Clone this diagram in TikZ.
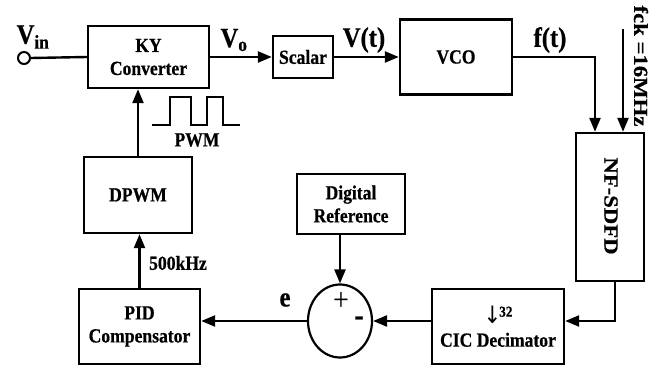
\documentclass[tikz,border=0pt]{standalone}
\usepackage{fontspec}
\setmainfont{Liberation Serif}[FakeStretch=0.88,BoldFeatures={FakeBold=0.6}]
\newfontfamily\rotfont{Liberation Serif}[FakeStretch=1.136,BoldFeatures={FakeBold=0.6}]
\newfontfamily\arrowfont{DejaVu Sans}[FakeStretch=0.88]
\usetikzlibrary{arrows.meta,shapes.geometric}

\begin{document}
\begin{tikzpicture}[x=1pt,y=-1pt,
  block/.style={draw,line width=2.4pt,align=center,inner sep=0pt,
                font=\bfseries\fontsize{20}{23}\selectfont},
  sig/.style={font=\bfseries\fontsize{28}{28}\selectfont},
  note/.style={font=\bfseries\fontsize{20}{20}\selectfont},
  vnote/.style={rotate=-90,font=\rotfont\bfseries\fontsize{20}{20}\selectfont},
  wire/.style={line width=2.4pt},
  arr/.style={wire,-{Triangle[length=14pt,width=11pt]}}]
  \useasboundingbox (0,0) rectangle (664,366);

% forward path
  \node[draw,circle,line width=2pt,minimum size=12pt,inner sep=0pt] (vin) at (24,58) {};
  \node[block,minimum width=121pt,minimum height=62pt] (ky) at (148.5,57) {KY\\Converter};
  \node[block,minimum width=60pt,minimum height=42pt] (scalar) at (303,57) {Scalar};
  \node[block,minimum width=112pt,minimum height=75pt] (vco) at (456,57) {VCO};
  \node[block,minimum width=68pt,minimum height=148pt] (sdfd) at (610,207) {};
  \node[vnote] (sdfdtxt) at (611,206) {NF-SDFD};

% feedback path
  \node[block,minimum width=132pt,minimum height=75pt] (cic) at (498,326.5)
       {{\arrowfont\mdseries\fontsize{24}{24}\selectfont ↓}\kern-2pt{\fontsize{15}{15}\selectfont\raisebox{7pt}{32}}\\CIC Decimator};
  \node[draw,ellipse,line width=2.2pt,minimum width=64pt,minimum height=73pt,inner sep=0pt] (sum) at (340,321) {};
  \node[block,minimum width=108pt,minimum height=60pt] (ref) at (351,204) {Digital\\Reference};
  \node[block,minimum width=121pt,minimum height=75pt] (pid) at (139.5,326.5) {PID\\Compensator};
  \node[block,minimum width=108pt,minimum height=76pt] (dpwm) at (138,195) {DPWM};

% signal labels
  \node[sig] (vinlbl) at (33,37) {V\textsubscript{in}};
  \node[sig] (volbl) at (234,40) {V\textsubscript{o}};
  \node[sig] (vtlbl) at (364,40) {V(t)};
  \node[sig] (ftlbl) at (550,40) {f(t)};
  \node[sig] (elbl) at (285,300) {e};
  \node[vnote] (fcklbl) at (641,66) {fck =16MHz};
  \node[note] (pwmlbl) at (197,140) {PWM};
  \node[note] (khzlbl) at (178,263) {500kHz};
  \node[font=\fontsize{32}{32}\selectfont] (plus) at (341,301) {+};
  \node[font=\bfseries\fontsize{32}{32}\selectfont] (minus) at (359,321) {-};

% PWM waveform
  \draw[line width=2pt] (152,125) -- (170,125) -- (170,97) -- (191,97) -- (191,125)
                        -- (207,125) -- (207,97) -- (223,97) -- (223,125) -- (240,125);

% connectors
  \coordinate (ftin) at ([xshift=-15pt]sdfd.north);
  \coordinate (fckin) at ([xshift=13pt]sdfd.north);
  \coordinate (fcktop) at (623,29);
  \draw[wire] (vin.east) -- (ky.west);
  \draw[arr] (ky.east) -- (scalar.west);
  \draw[arr] (scalar.east) -- (vco.west);
  \draw[arr] (vco.east) -| (ftin);
  \draw[arr] (fcktop) -- (fckin);
  \draw[arr] ([xshift=5pt]sdfd.south) |- (cic.east |- sum);
  \draw[arr] (cic.west |- sum) -- (sum.east);
  \draw[arr] (ref.south -| sum) -- (sum.north);
  \draw[arr] (sum.west) -- (sum.west -| pid.east);
  \draw[arr] (pid.north) -- (pid.north |- dpwm.south);
  \draw[arr] (dpwm.north) -- (dpwm.north |- ky.south);

\end{tikzpicture}
\end{document}
